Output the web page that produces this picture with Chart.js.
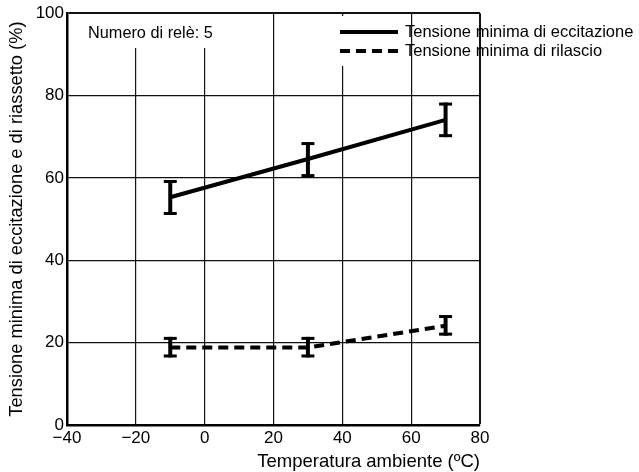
<!DOCTYPE html>
<html>
<head>
<meta charset="utf-8">
<script src="https://cdn.jsdelivr.net/npm/chart.js@4/dist/chart.umd.min.js"></script>
<style>
  html, body { margin: 0; padding: 0; background: #fff; }
  #wrap { width: 639px; height: 472px; }
</style>
</head>
<body>
<div id="wrap"><canvas id="relayChart"></canvas></div>
<script>
// temperature points (°C)
const temps = [-10, 30, 70];
// minimum operate voltage (%)
const operate = [55.3, 64.6, 74.1];
const operateLow = [51.0, 60.2, 69.9];
const operateHigh = [59.5, 68.7, 78.3];
// minimum release voltage (%)
const release = [18.8, 18.8, 24.1];
const releaseLow = [16.4, 16.4, 21.7];
const releaseHigh = [21.4, 21.4, 26.7];

const xTicks = [-40, -20, 0, 20, 40, 60, 80];
const yTicks = [0, 20, 40, 60, 80, 100];

const legendLabels = ["Tensione minima di eccitazione", "Tensione minima di rilascio"];
const noteText = "Numero di relè: 5";

const FONT = "'Liberation Sans', Arial, Helvetica, sans-serif";

// error bars + note + legend drawn on top of the chart
const extras = {
    id: "extras",
    afterDatasetsDraw(chart) {
        const ctx = chart.ctx;
        const xs = chart.scales.x;
        const ys = chart.scales.y;
        ctx.save();
        ctx.fillStyle = "#000";
        const bars = [[operateLow, operateHigh], [releaseLow, releaseHigh]];
        bars.forEach(function (b) {
            temps.forEach(function (t, i) {
                const px = xs.getPixelForValue(t);
                const top = ys.getPixelForValue(b[1][i]);
                const bot = ys.getPixelForValue(b[0][i]);
                ctx.fillRect(px - 2, top, 4, bot - top);
                ctx.fillRect(px - 6.5, top, 13, 3);
                ctx.fillRect(px - 6.5, bot - 3, 13, 3);
            });
        });

        // note
        ctx.font = "16.3px " + FONT;
        ctx.textBaseline = "middle";
        ctx.textAlign = "left";
        const nw = ctx.measureText(noteText).width;
        ctx.fillStyle = "#fff";
        ctx.fillRect(84, 14, nw + 8, 34);
        ctx.fillStyle = "#000";
        ctx.fillText(noteText, 88, 34);

        // legend
        ctx.fillStyle = "#fff";
        ctx.fillRect(334, 16, 68, 50);
        ctx.strokeStyle = "#000";
        ctx.lineWidth = 4;
        ctx.font = "16.5px " + FONT;
        [32, 51].forEach(function (y, i) {
            ctx.setLineDash(i === 0 ? [] : [10, 6]);
            ctx.beginPath();
            ctx.moveTo(340, y);
            ctx.lineTo(398, y);
            ctx.stroke();
            ctx.fillStyle = "#000";
            ctx.fillText(legendLabels[i], 405, y);
        });
        ctx.restore();
    },
};

const ctx = document.getElementById("relayChart").getContext("2d");
new Chart(ctx, {
    type: "line",
    data: {
        datasets: [
            {
                label: legendLabels[0],
                data: temps.map((t, i) => ({ x: t, y: operate[i] })),
                borderColor: "#000",
                borderWidth: 4,
                pointRadius: 0,
                tension: 0,
            },
            {
                label: legendLabels[1],
                data: temps.map((t, i) => ({ x: t, y: release[i] })),
                borderColor: "#000",
                borderWidth: 4,
                borderDash: [10, 6],
                pointRadius: 0,
                tension: 0,
            },
        ],
    },
    options: {
        responsive: true,
        maintainAspectRatio: false,
        animation: false,
        layout: { padding: { top: 10, right: 159, left: 0, bottom: 0 } },
        plugins: {
            legend: { display: false },
            tooltip: { enabled: false },
        },
        scales: {
            x: {
                type: "linear",
                min: -40,
                max: 80,
                afterBuildTicks: (s) => { s.ticks = xTicks.map((v) => ({ value: v })); },
                afterFit: (s) => { s.height = 47; },
                grid: {
                    color: "#111",
                    lineWidth: (c) => (c.tick && c.tick.value === 80 ? 2 : 1.2),
                    drawTicks: false,
                },
                border: { color: "#000", width: 2.5 },
                ticks: {
                    color: "#000",
                    padding: 3,
                    font: { size: 17, family: FONT },
                    callback: (v) => (v < 0 ? "\u2212" + Math.abs(v) : String(v)),
                },
                title: {
                    display: true,
                    text: "Temperatura ambiente (ºC)",
                    align: "end",
                    color: "#000",
                    padding: 0,
                    font: { size: 18.5, family: FONT, lineHeight: 1.1 },
                },
            },
            y: {
                min: 0,
                max: 100,
                afterBuildTicks: (s) => { s.ticks = yTicks.map((v) => ({ value: v })); },
                afterFit: (s) => { s.width = 67; },
                grid: {
                    color: "#111",
                    lineWidth: (c) => (c.tick && c.tick.value === 100 ? 2 : 1.2),
                    drawTicks: false,
                },
                border: { color: "#000", width: 2.5 },
                ticks: {
                    color: "#000",
                    padding: 3,
                    font: { size: 17, family: FONT },
                },
                title: {
                    display: true,
                    text: "Tensione minima di eccitazione e di riassetto (%)",
                    color: "#000",
                    padding: { top: 7, bottom: 0 },
                    font: { size: 18.3, family: FONT, lineHeight: 1.1 },
                },
            },
        },
    },
    plugins: [extras],
});
</script>
</body>
</html>
